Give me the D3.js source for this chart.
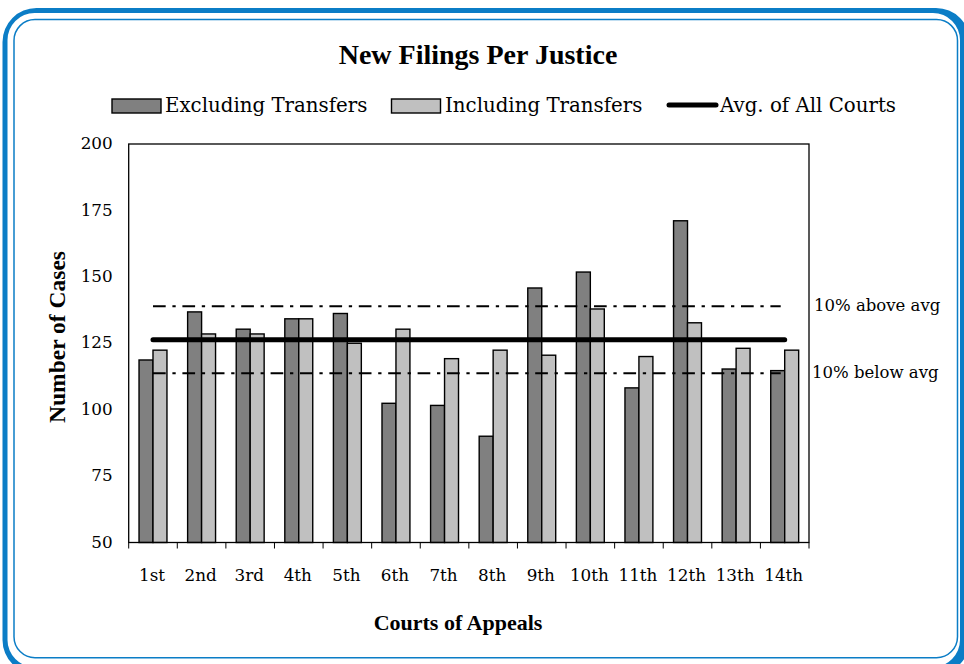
<!DOCTYPE html>
<html>
<head>
<meta charset="utf-8">
<script src="https://cdn.jsdelivr.net/npm/d3@7"></script>
<style>
  body { margin: 0; background: #fff; }
</style>
</head>
<body>
<div id="chart"></div>
<script>
const width = 964;
const height = 664;

// data
const courts = ["1st", "2nd", "3rd", "4th", "5th", "6th", "7th", "8th", "9th", "10th", "11th", "12th", "13th", "14th"];
const excludingTransfers = [118.7, 136.8, 130.3, 134.2, 136.2, 102.4, 101.6, 90, 145.8, 151.8, 108.2, 171.1, 115.3, 114.7];
const includingTransfers = [122.4, 128.5, 128.5, 134.2, 125, 130.3, 119.2, 122.4, 120.5, 137.9, 120, 132.7, 123.1, 122.4];
const avgAllCourts = 126.3;
const yTicks = [50, 75, 100, 125, 150, 175, 200];
const seriesNames = ["Excluding Transfers", "Including Transfers"];
const seriesColors = ["#808080", "#c0c0c0"];

const blue = "#0b7dc6";
const serif = "'DejaVu Serif', serif";
const serifBold = "'Liberation Serif', 'Times New Roman', serif";

const plot = { left: 128.7, right: 809, top: 144, bottom: 542.5 };

const svg = d3.select("#chart").append("svg")
  .attr("width", width)
  .attr("height", height);

// blue frame round the whole thing
function roundRect(x0, y0, x1, y1, r) {
  return `M${x0 + r},${y0}H${x1 - r}A${r},${r} 0 0 1 ${x1},${y0 + r}V${y1 - r}A${r},${r} 0 0 1 ${x1 - r},${y1}H${x0 + r}A${r},${r} 0 0 1 ${x0},${y1 - r}V${y0 + r}A${r},${r} 0 0 1 ${x0 + r},${y0}Z`;
}
svg.append("path")
  .attr("d", roundRect(2.5, 8, 970, 674, 34) + roundRect(7.5, 13, 960, 667, 27))
  .attr("fill", blue)
  .attr("fill-rule", "evenodd");
svg.append("path")
  .attr("d", roundRect(14, 19.5, 957.5, 657.7, 21))
  .attr("fill", "none")
  .attr("stroke", blue)
  .attr("stroke-width", 1.5);

// scales
const x = d3.scaleBand()
  .domain(courts)
  .range([plot.left, plot.right]);

const x1 = d3.scaleBand()
  .domain(seriesNames)
  .range([0, x.bandwidth()])
  .paddingInner(0)
  .paddingOuter(0.74);

const y = d3.scaleLinear()
  .domain([50, 200])
  .range([plot.bottom, plot.top]);

// title
svg.append("text")
  .attr("x", 478)
  .attr("y", 64)
  .attr("text-anchor", "middle")
  .style("font-family", serifBold)
  .style("font-weight", "bold")
  .style("font-size", "28px")
  .text("New Filings Per Justice");

// legend
const legendItems = [
  { type: "rect", color: seriesColors[0], label: seriesNames[0], x: 112, tx: 165 },
  { type: "rect", color: seriesColors[1], label: seriesNames[1], x: 391.5, tx: 445 },
  { type: "line", color: "#000", label: "Avg. of All Courts", x: 669, tx: 720 }
];
const legend = svg.append("g");
legendItems.forEach(d => {
  if (d.type === "rect") {
    legend.append("rect")
      .attr("x", d.x).attr("y", 99)
      .attr("width", 49).attr("height", 14)
      .attr("fill", d.color)
      .attr("stroke", "#000")
      .attr("stroke-width", 1.4);
  } else {
    legend.append("line")
      .attr("x1", d.x).attr("x2", 716)
      .attr("y1", 105).attr("y2", 105)
      .attr("stroke", "#000")
      .attr("stroke-width", 5)
      .attr("stroke-linecap", "round");
  }
  legend.append("text")
    .attr("x", d.tx)
    .attr("y", 112)
    .style("font-family", serif)
    .style("font-size", "19.8px")
    .text(d.label);
});

// bars
const rows = courts.map((c, i) => ({ court: c, values: [excludingTransfers[i], includingTransfers[i]] }));
const groups = svg.append("g").selectAll("g")
  .data(rows)
  .join("g")
  .attr("transform", d => `translate(${x(d.court)},0)`);

groups.selectAll("rect")
  .data(d => d.values.map((v, k) => ({ key: seriesNames[k], value: v, color: seriesColors[k] })))
  .join("rect")
  .attr("x", d => x1(d.key))
  .attr("width", x1.bandwidth())
  .attr("y", d => y(d.value))
  .attr("height", d => y(50) - y(d.value))
  .attr("fill", d => d.color)
  .attr("stroke", "#000")
  .attr("stroke-width", 1.4);

// reference lines
const lineStart = x(courts[0]) + x.bandwidth() / 2;
const lineEnd = x(courts[courts.length - 1]) + x.bandwidth() / 2;

[avgAllCourts * 1.1, avgAllCourts * 0.9].forEach(v => {
  svg.append("line")
    .attr("x1", lineStart).attr("x2", lineEnd - 4)
    .attr("y1", y(v)).attr("y2", y(v))
    .attr("stroke", "#000")
    .attr("stroke-width", 2)
    .attr("stroke-dasharray", "12.7,6.7,3.3,6.7");
});

svg.append("line")
  .attr("x1", lineStart).attr("x2", lineEnd)
  .attr("y1", y(avgAllCourts)).attr("y2", y(avgAllCourts))
  .attr("stroke", "#000")
  .attr("stroke-width", 5)
  .attr("stroke-linecap", "round");

svg.append("text")
  .attr("x", 814)
  .attr("y", y(avgAllCourts * 1.1) + 5)
  .style("font-family", serif)
  .style("font-size", "16.5px")
  .text("10% above avg");

svg.append("text")
  .attr("x", 812)
  .attr("y", y(avgAllCourts * 0.9) + 5)
  .style("font-family", serif)
  .style("font-size", "16.5px")
  .text("10% below avg");

// plot frame
svg.append("rect")
  .attr("x", plot.left)
  .attr("y", plot.top)
  .attr("width", plot.right - plot.left)
  .attr("height", plot.bottom - plot.top)
  .attr("fill", "none")
  .attr("stroke", "#000")
  .attr("stroke-width", 1.3);

// y axis labels
const yAxis = svg.append("g")
  .attr("transform", `translate(${plot.left},0)`)
  .call(d3.axisLeft(y).tickValues(yTicks).tickSize(0).tickPadding(16));
yAxis.select(".domain").remove();
yAxis.selectAll("text")
  .attr("dy", "0.28em")
  .style("font-family", serif)
  .style("font-size", "16.8px")
  .attr("fill", "#000");

// x axis labels
const xAxis = svg.append("g")
  .attr("transform", `translate(0,${plot.bottom})`)
  .call(d3.axisBottom(x).tickSize(0).tickPadding(27));
xAxis.select(".domain").remove();
xAxis.selectAll("text")
  .attr("dx", "-1")
  .style("font-family", serif)
  .style("font-size", "16.8px")
  .attr("fill", "#000");

// tick marks on the band edges
const edges = courts.map(c => x(c)).concat([plot.right]);
svg.append("g").selectAll("line")
  .data(edges)
  .join("line")
  .attr("x1", d => d).attr("x2", d => d)
  .attr("y1", plot.bottom).attr("y2", plot.bottom + 6)
  .attr("stroke", "#000")
  .attr("stroke-width", 1);

// axis titles
svg.append("text")
  .attr("x", 458)
  .attr("y", 629.5)
  .attr("text-anchor", "middle")
  .style("font-family", serifBold)
  .style("font-weight", "bold")
  .style("font-size", "22px")
  .text("Courts of Appeals");

svg.append("text")
  .attr("transform", "translate(65,337) rotate(-90)")
  .attr("text-anchor", "middle")
  .style("font-family", serifBold)
  .style("font-weight", "bold")
  .style("font-size", "23.5px")
  .text("Number of Cases");
</script>
</body>
</html>
